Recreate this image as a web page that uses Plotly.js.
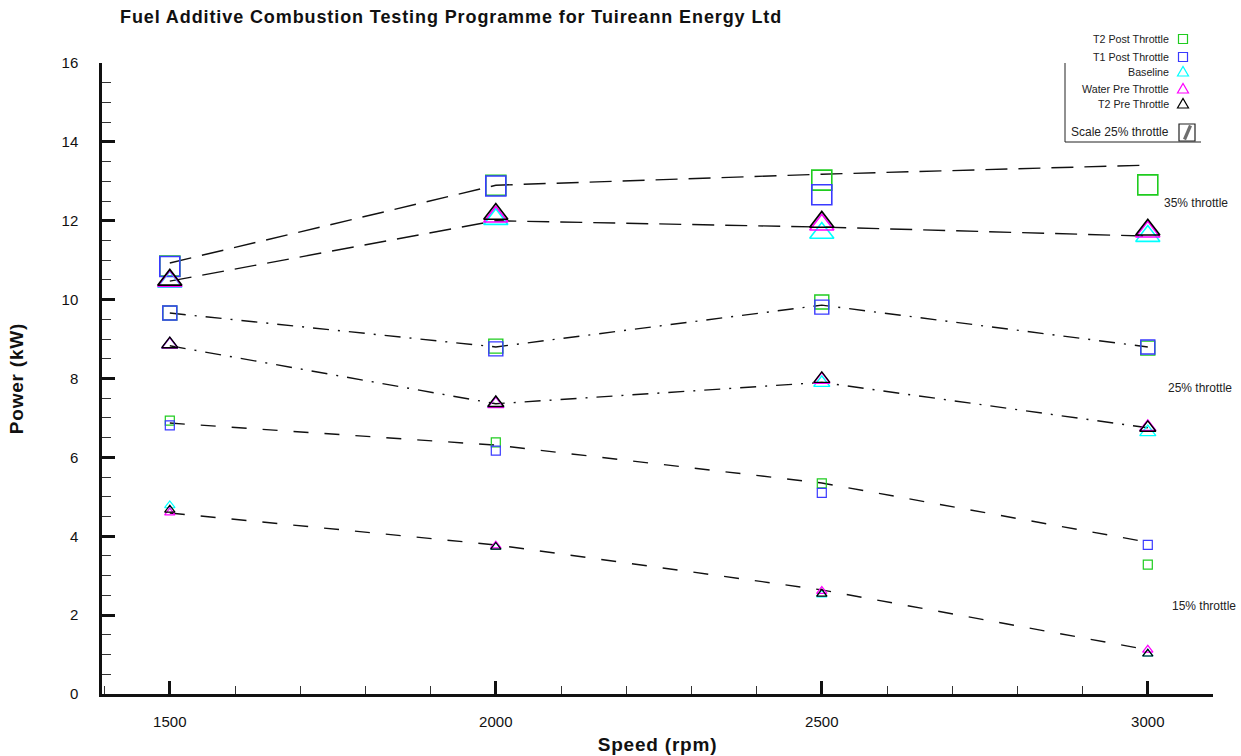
<!DOCTYPE html>
<html>
<head>
<meta charset="utf-8">
<script src="https://cdn.plot.ly/plotly-3.0.1.min.js"></script>
<style>
  html, body { margin: 0; padding: 0; background: #fff; }
  #chart { width: 1241px; height: 756px; }
  #chart .gtitle { letter-spacing: 0.9px; }
  #chart .xtitle, #chart .ytitle { letter-spacing: 0.8px; }
</style>
</head>
<body>
<div id="chart"></div>
<script>
// Engine speeds tested (rpm)
const speed = [1500, 2000, 2500, 3000];

// Power output (kW) at 35% throttle
const t2Post35   = [10.85, 12.90, 13.03, 12.91];
const t1Post35   = [10.84, 12.88, 12.66, null];
const baseline35 = [10.45, 12.04, 11.69, 11.61];
const water35    = [10.47, 12.10, 11.90, 11.72];
const t2Pre35    = [10.50, 12.17, 11.97, 11.77];

// Power output (kW) at 25% throttle
const t2Post25   = [9.66, 8.82, 9.94, 8.77];
const t1Post25   = [9.66, 8.75, 9.81, 8.80];
const baseline25 = [8.86, 7.36, 7.89, 6.64];
const water25    = [8.86, 7.35, 7.97, 6.77];
const t2Pre25    = [8.87, 7.38, 7.99, 6.75];

// Power output (kW) at 15% throttle
const t2Post15   = [6.93, 6.38, 5.34, 3.28];
const t1Post15   = [6.81, 6.17, 5.10, 3.78];
const baseline15 = [4.78, 3.73, 2.52, 1.02];
const water15    = [4.60, 3.76, 2.61, 1.12];
const t2Pre15    = [4.67, 3.73, 2.54, 1.02];

// Trend lines through each throttle group
const postTrend35 = [10.93, 12.90, 13.18, 13.41];
const preTrend35  = [10.47, 12.00, 11.84, 11.61];
const postTrend25 = [9.66, 8.80, 9.86, 8.80];
const preTrend25  = [8.83, 7.36, 7.90, 6.75];
const postTrend15 = [6.87, 6.31, 5.35, 3.85];
const preTrend15  = [4.59, 3.78, 2.64, 1.12];

const seriesNames = ['T2 Post Throttle', 'T1 Post Throttle', 'Baseline', 'Water Pre Throttle', 'T2 Pre Throttle'];
const throttleLabels = ['35% throttle', '25% throttle', '15% throttle'];

const FONT = 'Liberation Sans, Arial, sans-serif';
const colours = ['#1fcc1f', '#3a3aff', '#00ffff', '#ff00ff', '#000000'];
const symbols = ['square-open', 'square-open', 'triangle-up-open', 'triangle-up-open', 'triangle-up-open'];

// Symbol sizes scale with throttle setting
const groups = [
  { sets: [t2Post35, t1Post35, baseline35, water35, t2Pre35], sq: 20, tri: 21, lw: 1.6 },
  { sets: [t2Post25, t1Post25, baseline25, water25, t2Pre25], sq: 14, tri: 14, lw: 1.4 },
  { sets: [t2Post15, t1Post15, baseline15, water15, t2Pre15], sq: 9,  tri: 9,  lw: 1.2 }
];

const trends = [
  { y: postTrend35, dash: '22px,11px' },
  { y: preTrend35,  dash: '22px,11px' },
  { y: postTrend25, dash: '16px,9px,2px,9px' },
  { y: preTrend25,  dash: '16px,9px,2px,9px' },
  { y: postTrend15, dash: '15px,16px' },
  { y: preTrend15,  dash: '15px,16px' }
];

const traces = [];
trends.forEach(t => {
  traces.push({
    x: speed, y: t.y, type: 'scatter', mode: 'lines',
    line: { color: '#111', width: 1.4, dash: t.dash },
    hoverinfo: 'skip', showlegend: false
  });
});
groups.forEach(g => {
  g.sets.forEach((vals, i) => {
    const isSquare = symbols[i].startsWith('square');
    traces.push({
      x: speed, y: vals, type: 'scatter', mode: 'markers',
      name: seriesNames[i], showlegend: false,
      marker: {
        symbol: symbols[i], color: colours[i],
        size: isSquare ? g.sq : g.tri,
        line: { color: colours[i], width: g.lw }
      }
    });
  });
});

// Plot-area geometry (pixels) used to place the key in paper coordinates
const L = 102, R = 1213, T = 63, B = 694;
const px = x => (x - L) / (R - L);
const py = y => (B - y) / (B - T);

const annotations = [];
const shapes = [];

// Key entries: text right-aligned, symbol to the right
const keyY = [39, 57, 72, 89, 104];
const keyX = 1183;
seriesNames.forEach((name, i) => {
  annotations.push({
    xref: 'paper', yref: 'paper', x: px(1171), y: py(keyY[i]),
    xanchor: 'right', yanchor: 'middle', showarrow: false,
    text: name, font: { family: FONT, size: 10.7, color: '#222' }
  });
  const c = colours[i];
  if (symbols[i].startsWith('square')) {
    shapes.push({
      type: 'rect', xref: 'paper', yref: 'paper',
      x0: px(keyX - 4.5), x1: px(keyX + 4.5), y0: py(keyY[i] + 4.5), y1: py(keyY[i] - 4.5),
      line: { color: c, width: 1.2 }
    });
  } else {
    const yt = keyY[i] - 5.5, yb = keyY[i] + 4;
    shapes.push({
      type: 'path', xref: 'paper', yref: 'paper',
      path: `M ${px(keyX - 5.5)},${py(yb)} L ${px(keyX + 5.5)},${py(yb)} L ${px(keyX)},${py(yt)} Z`,
      line: { color: c, width: 1.2 }
    });
  }
});
annotations.push({
  xref: 'paper', yref: 'paper', x: px(1171), y: py(132),
  xanchor: 'right', yanchor: 'middle', showarrow: false,
  text: 'Scale 25% throttle', font: { family: FONT, size: 12, color: '#222' }
});
// Scale icon: boxed slash
shapes.push({
  type: 'rect', xref: 'paper', yref: 'paper',
  x0: px(1179), x1: px(1195), y0: py(141), y1: py(124),
  line: { color: '#222', width: 1.2 }
});
shapes.push({
  type: 'line', xref: 'paper', yref: 'paper',
  x0: px(1184.5), y0: py(139.5), x1: px(1190.5), y1: py(125.5),
  line: { color: '#6e6e6e', width: 3.2 }
});
// Key frame (left and bottom edges)
shapes.push({
  type: 'path', xref: 'paper', yref: 'paper',
  path: `M ${px(1065)},${py(63)} L ${px(1065)},${py(142)} L ${px(1201)},${py(142)}`,
  line: { color: '#222', width: 1 }
});

// Throttle group labels at the right of the plot
const labelPos = [[1162, 203], [1166, 388], [1170, 606]];
throttleLabels.forEach((t, i) => {
  annotations.push({
    xref: 'paper', yref: 'paper', x: px(labelPos[i][0]), y: py(labelPos[i][1]),
    xanchor: 'left', yanchor: 'middle', showarrow: false,
    text: t, font: { family: FONT, size: 12, color: '#222' }
  });
});

const layout = {
  width: 1241, height: 756,
  margin: { l: L, r: 1241 - R, t: T, b: 756 - B, pad: 0 },
  paper_bgcolor: '#fff', plot_bgcolor: '#fff',
  font: { family: FONT, color: '#111' },
  showlegend: false,
  title: {
    text: '<b>Fuel Additive Combustion Testing Programme for Tuireann Energy Ltd</b>',
    xref: 'container', yref: 'container', x: 120 / 1241, xanchor: 'left',
    y: 1 - 17 / 756, yanchor: 'middle',
    font: { family: FONT, size: 18, color: '#111' }
  },
  xaxis: {
    range: [1396, 3100],
    tickvals: speed, ticktext: speed.map(String),
    ticks: 'inside', ticklen: 13, tickwidth: 2.5, tickcolor: '#111',
    minor: { ticks: 'inside', ticklen: 8, tickwidth: 1, tickcolor: '#333', dtick: 100, tick0: 1500, showgrid: false },
    showline: true, linewidth: 2.5, linecolor: '#111',
    showgrid: false, zeroline: false,
    ticklabelstandoff: 12,
    tickfont: { family: FONT, size: 15, color: '#111' },
    title: { text: '<b>Speed (rpm)</b>', standoff: 9, font: { family: FONT, size: 19, color: '#111' } }
  },
  yaxis: {
    range: [0, 16], dtick: 2, tick0: 0,
    ticks: 'inside', ticklen: 13, tickwidth: 2.5, tickcolor: '#111',
    minor: { ticks: 'inside', ticklen: 9, tickwidth: 1, tickcolor: '#333', dtick: 0.5, showgrid: false },
    showline: true, linewidth: 2.5, linecolor: '#111',
    showgrid: false, zeroline: false,
    ticklabelstandoff: 18,
    tickfont: { family: FONT, size: 15, color: '#111' },
    title: { text: '<b>Power (kW)</b>', standoff: 33, font: { family: FONT, size: 19, color: '#111' } }
  },
  annotations: annotations,
  shapes: shapes
};

Plotly.newPlot('chart', traces, layout, { displayModeBar: false, responsive: false });
</script>
</body>
</html>
